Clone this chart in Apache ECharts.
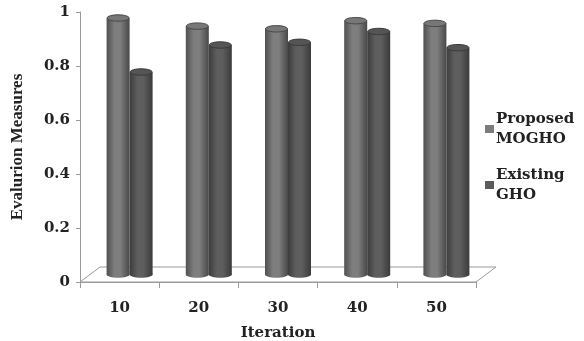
<!DOCTYPE html>
<html>
<head>
<meta charset="utf-8">
<script src="https://cdn.jsdelivr.net/npm/echarts@6/dist/echarts.min.js"></script>
<style>
  html, body { margin: 0; padding: 0; background: #fff; }
  #chart { width: 584px; height: 341px; }
</style>
</head>
<body>
<div id="chart"></div>
<script>
// Iterations on the x axis
const iterations = ['10', '20', '30', '40', '50'];
// Evaluation measure per method
const proposedMOGHO = [0.95, 0.92, 0.91, 0.94, 0.93];
const existingGHO = [0.75, 0.85, 0.86, 0.90, 0.84];
const seriesNames = ['Proposed\nMOGHO', 'Existing\nGHO'];

const FONT_WIDE = '"DejaVu Serif", "Liberation Serif", serif';
const FONT = '"Liberation Serif", "Times New Roman", serif';
const TEXT = '#222';
// depth shift of the bars relative to the front axis plane
const DX = 10, DY = -7.5;
// floor depth
const FX = 20, FY = -15;
const BAR_W = 23;
const RY = 3.2;

function cylinder(params, api, offset, shades) {
  const i = api.value(0), v = api.value(1);
  const base = api.coord([i, 0]);
  const top = api.coord([i, v]);
  const cx = base[0] + DX + offset;
  const x0 = cx - BAR_W / 2;
  const yb = base[1] + DY;
  const yt = top[1] + DY;
  const grad = new echarts.graphic.LinearGradient(0, 0, 1, 0, [
    { offset: 0, color: shades[0] },
    { offset: 0.35, color: shades[1] },
    { offset: 0.6, color: shades[1] },
    { offset: 1, color: shades[2] }
  ]);
  return {
    type: 'group',
    children: [
      { type: 'ellipse', shape: { cx: cx, cy: yb, rx: BAR_W / 2, ry: RY }, style: { fill: grad } },
      { type: 'rect', shape: { x: x0, y: yt, width: BAR_W, height: yb - yt }, style: { fill: grad } },
      { type: 'ellipse', shape: { cx: cx, cy: yt, rx: BAR_W / 2 - 0.5, ry: RY }, style: { fill: shades[3], stroke: shades[2], lineWidth: 1 } }
    ]
  };
}

const chart = echarts.init(document.getElementById('chart'), null, { renderer: 'canvas' });
chart.setOption({
  animation: false,
  backgroundColor: '#fff',
  textStyle: { fontFamily: FONT },
  grid: { left: 80, right: 108, top: 12, bottom: 59, containLabel: false, outerBoundsMode: 'none' },
  legend: {
    orient: 'vertical',
    left: 480,
    top: 94,
    itemWidth: 9,
    itemHeight: 8,
    itemGap: -4,
    icon: 'rect',
    data: seriesNames,
    textStyle: {
      fontFamily: FONT_WIDE, fontWeight: 'bold', fontSize: 15, color: TEXT,
      lineHeight: 20, padding: [20, 0, 0, -3]
    }
  },
  xAxis: {
    type: 'category',
    data: iterations,
    name: 'Iteration',
    nameLocation: 'middle',
    nameGap: 44,
    nameTextStyle: { fontFamily: FONT_WIDE, fontWeight: 'bold', fontSize: 15, color: TEXT },
    axisLine: { lineStyle: { color: '#9a9a9a', width: 1 } },
    axisTick: { show: true, length: 6, lineStyle: { color: '#9a9a9a' } },
    axisLabel: { margin: 19, fontFamily: FONT_WIDE, fontWeight: 'bold', fontSize: 15, color: TEXT },
    splitLine: { show: false }
  },
  yAxis: {
    type: 'value',
    min: 0,
    max: 1,
    interval: 0.2,
    name: 'Evalurion Measures',
    nameLocation: 'middle',
    nameGap: 54,
    nameTextStyle: { fontFamily: FONT, fontWeight: 'bold', fontSize: 17, color: TEXT },
    axisLine: { show: true, lineStyle: { color: '#9a9a9a', width: 1 } },
    axisTick: { show: true, length: 4, lineStyle: { color: '#9a9a9a' } },
    axisLabel: { margin: 10, fontFamily: FONT_WIDE, fontWeight: 'bold', fontSize: 15, color: TEXT },
    splitLine: { show: false }
  },
  series: [
    {
      // floor of the plot area
      type: 'custom',
      silent: true,
      z: 1,
      data: [[0, 0]],
      renderItem: function (params, api) {
        const c = params.coordSys;
        const yb = c.y + c.height;
        return {
          type: 'polygon',
          shape: { points: [[c.x, yb], [c.x + FX, yb + FY], [c.x + c.width + FX, yb + FY], [c.x + c.width, yb]] },
          style: { fill: '#fff', stroke: '#9a9a9a', lineWidth: 1 }
        };
      }
    },
    {
      name: seriesNames[1],
      type: 'custom',
      z: 2,
      itemStyle: { color: '#5a5a5a' },
      data: existingGHO.map((v, i) => [i, v]),
      renderItem: function (params, api) {
        return cylinder(params, api, BAR_W / 2, ['#3c3c3c', '#5e5e5e', '#3a3a3a', '#555555']);
      }
    },
    {
      name: seriesNames[0],
      type: 'custom',
      z: 3,
      itemStyle: { color: '#7c7c7c' },
      data: proposedMOGHO.map((v, i) => [i, v]),
      renderItem: function (params, api) {
        return cylinder(params, api, -BAR_W / 2, ['#505050', '#7e7e7e', '#484848', '#777777']);
      }
    }
  ]
});
</script>
</body>
</html>
